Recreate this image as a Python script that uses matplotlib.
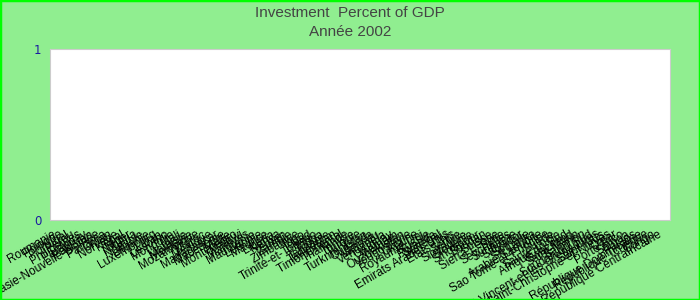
import matplotlib
matplotlib.use('Agg')
import matplotlib.pyplot as plt
from matplotlib.patches import Rectangle

countries = [
    'Roumanie', 'Pologne', 'Portugal', 'Pérou', 'Philippines', 'Paraguay', 'Pakistan',
    'Papouasie-Nouvelle-Guinée', 'Panama', 'Oman', 'Norvège', 'Népal', 'Niger', 'Nigéria',
    'Namibie', 'Lituanie', 'Luxembourg', 'Liban', 'Lesotho', 'Mongolie', 'Mali', 'Malaisie',
    'Moldavie', 'Mozambique', 'Maroc', 'Mexique', 'Madagascar', 'Macédoine', 'Malte',
    'Monténégro', 'Malawi', 'Maldives', 'Mauritanie', 'Lettonie', 'Maurice', 'Libéria',
    'Kenya', 'Yémen', 'Zambie', 'Zimbabwe', 'Togo', 'Tchad', 'Trinité-et-Tobago', 'Tonga',
    'Tanzanie', 'Tadjikistan', 'Timor Oriental', 'Thaïlande', 'Tunisie', 'Turquie',
    'Turkménistan', 'Ouganda', 'Vanuatu', 'Venezuela', 'Uruguay', 'Vietnam', 'Ouzbékistan',
    'Yougoslavie', 'Ukraine', 'Royaume-Uni', 'Russie', 'Rwanda', 'Sénégal',
    'Emirats Arabes Unis', 'Etats-Unis', 'Serbie', 'Slovaquie', 'Slovénie', 'Singapour',
    'Soudan', 'Suisse', 'Sierra Leone', 'Syrie', 'Seychelles', 'Suriname', 'Salvador',
    'Somalie', 'Sri Lanka', 'Arabie Saoudite', 'Sao Tomé-et-Principe', 'Suède',
    'Sainte-Lucie', 'Afrique du Sud', 'Swaziland', 'Saint-Marin', 'Salomon', 'Soudan du Sud',
    'Saint-Vincent-et-les Grenadines', 'Saint-Kitts', 'Saint-Christophe-et-Niévès', 'Qatar',
    'Porto Rico', 'Samoa', 'Palaos', 'République Dominicaine', 'République Tchèque',
    'Congo', 'République Centrafricaine',
]
investment = [0.0] * len(countries)

plt.rcParams['font.family'] = ['Liberation Sans', 'DejaVu Sans']

fig = plt.figure(figsize=(7, 3), dpi=100, facecolor='#90ee90')
fig.patches.append(Rectangle((0, 0), 1, 1, transform=fig.transFigure, fill=False,
                             edgecolor='#00ff00', linewidth=2.5))
ax = fig.add_axes([50 / 700, 80 / 300, 620 / 700, 171 / 300])
ax.set_facecolor('white')

x = range(len(countries))
ax.bar(x, investment, color='#4472c4', width=0.8)
ax.set_xlim(-0.4, len(countries) + 1)
ax.set_ylim(0, 1)
ax.set_yticks([0, 1])
ax.set_yticklabels(['0', '1'], color='#1a1aa0', fontsize=8.5, family='DejaVu Sans')
ax.set_xticks(list(x))
ax.set_xticklabels(countries, rotation=30, ha='right', rotation_mode='anchor',
                   fontsize=8.5, color='black')
ax.tick_params(length=0, pad=6)
for s in ax.spines.values():
    s.set_color('#cccccc')

fig.text(0.5, 1 - 13 / 300, 'Investment  Percent of GDP', ha='center', va='center',
         fontsize=11, color='#444444')
fig.text(0.5, 1 - 32 / 300, 'Année 2002', ha='center', va='center',
         fontsize=11, color='#444444')

fig.savefig('out.png', dpi=100, facecolor=fig.get_facecolor())
